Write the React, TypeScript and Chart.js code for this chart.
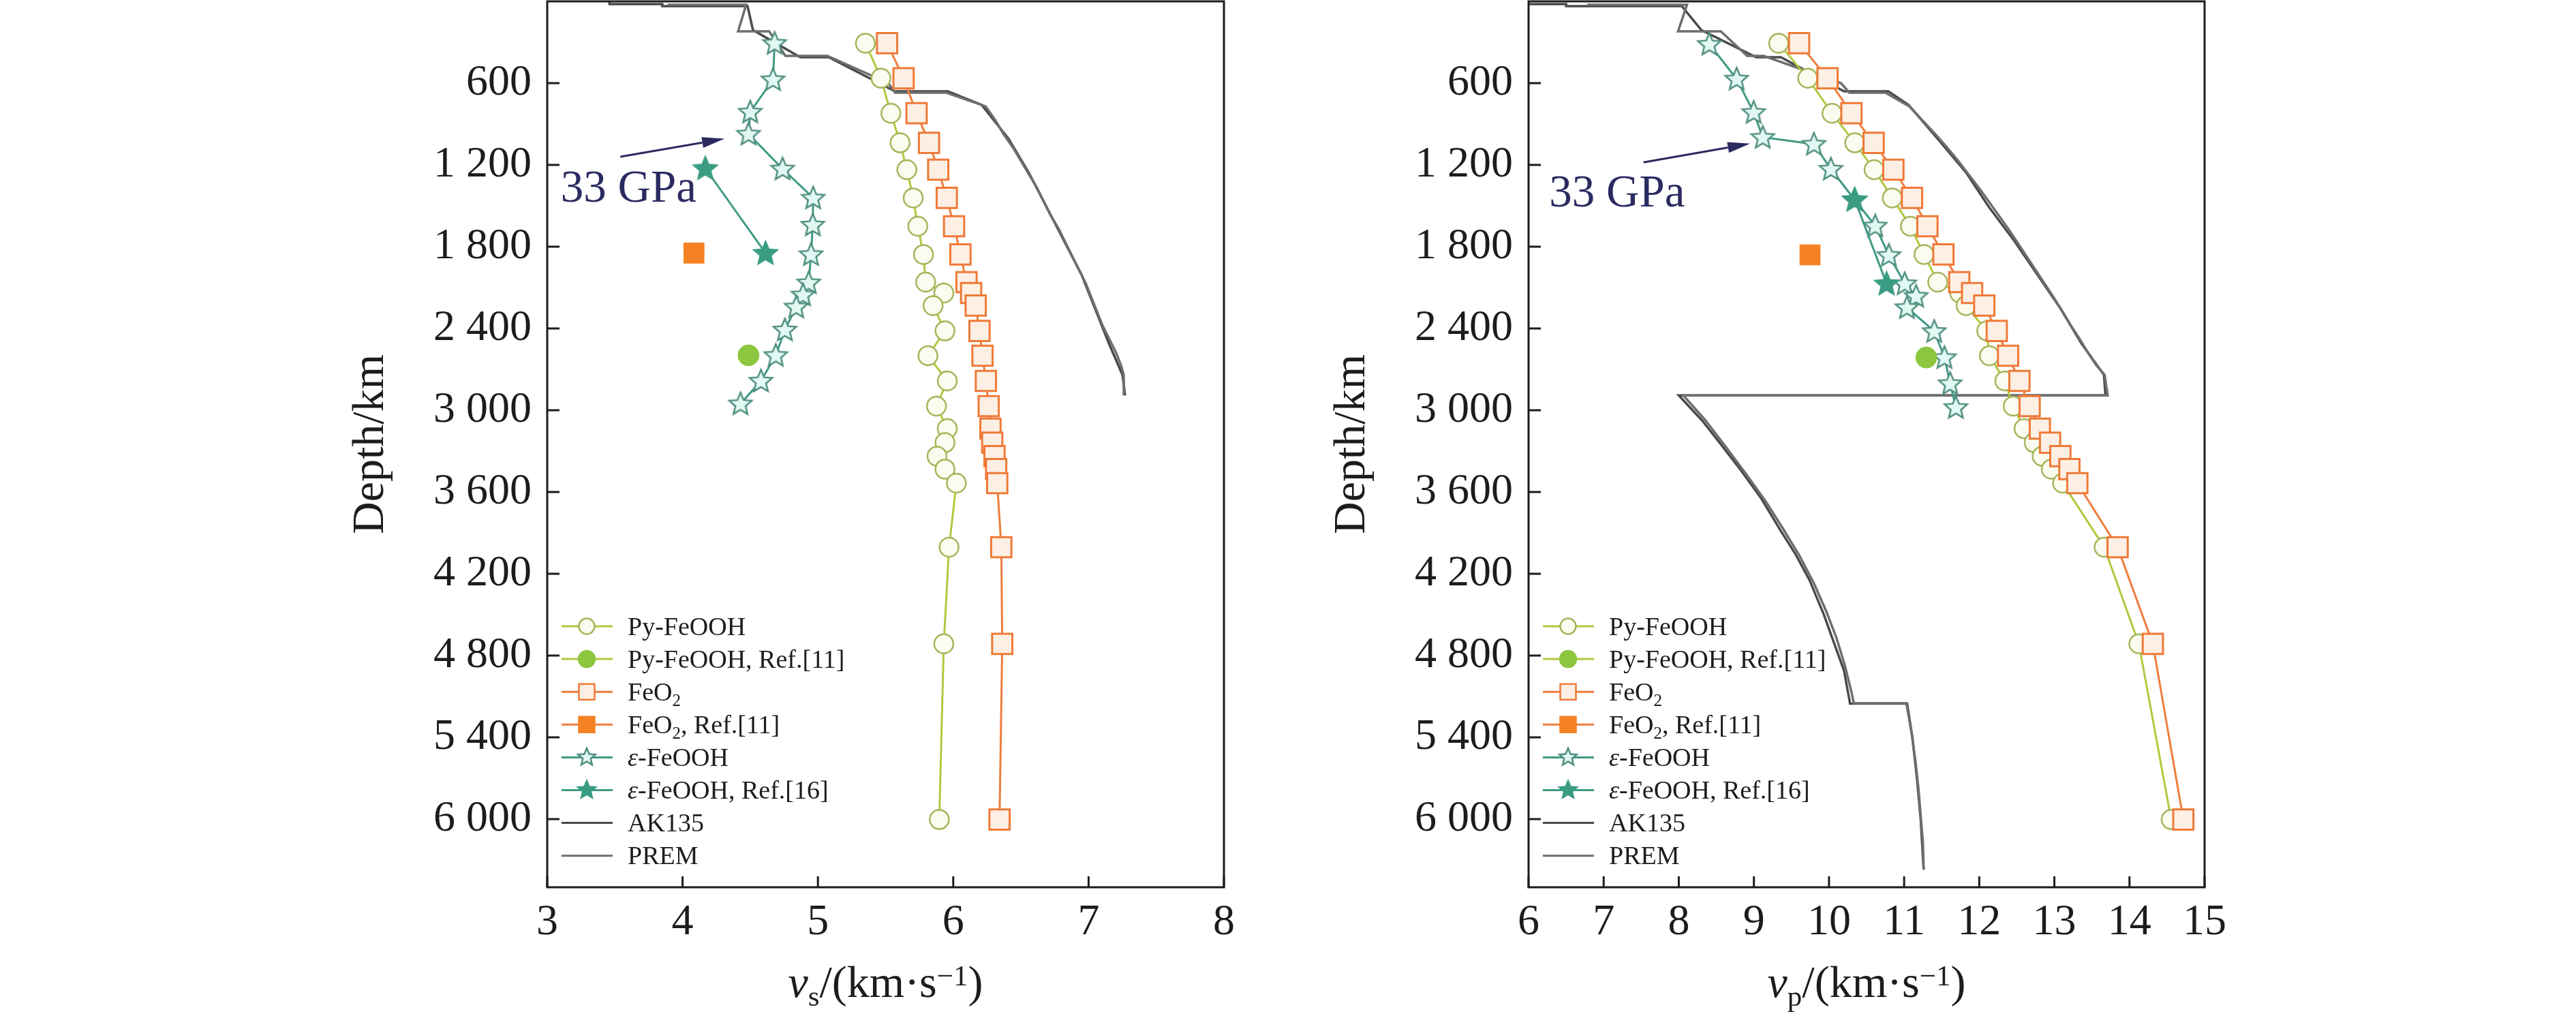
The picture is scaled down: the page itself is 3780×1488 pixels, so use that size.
import React, { useEffect, useRef } from 'react';
import { Chart, registerables } from 'chart.js';

Chart.register(...registerables);

// ---------- axes ----------
const DEPTH_MIN = 0;
const DEPTH_MAX = 6500;
const DEPTH_TICKS = [600, 1200, 1800, 2400, 3000, 3600, 4200, 4800, 5400, 6000];
const DEPTH_TICK_LABELS = ['600', '1 200', '1 800', '2 400', '3 000', '3 600', '4 200', '4 800', '5 400', '6 000'];
const VS_TICKS = [3, 4, 5, 6, 7, 8];
const VP_TICKS = [6, 7, 8, 9, 10, 11, 12, 13, 14, 15];

// ---------- computed data: Py-FeOOH and FeO2 share depths ----------
const DEPTH_CALC = [307, 564, 821, 1038, 1235, 1442, 1650, 1857, 2060, 2140, 2232, 2418, 2600, 2785, 2970, 3135, 3238, 3337, 3432, 3535, 4005, 4714, 6003];
const PY_VS = [5.351, 5.466, 5.539, 5.607, 5.657, 5.704, 5.738, 5.78, 5.796, 5.93, 5.851, 5.939, 5.813, 5.956, 5.876, 5.956, 5.939, 5.88, 5.939, 6.023, 5.969, 5.93, 5.897];
const FEO2_VS = [5.511, 5.633, 5.729, 5.821, 5.889, 5.952, 6.006, 6.053, 6.098, 6.132, 6.166, 6.194, 6.216, 6.241, 6.262, 6.275, 6.288, 6.305, 6.317, 6.325, 6.355, 6.362, 6.342];
const PY_VP = [9.33, 9.717, 10.04, 10.343, 10.6, 10.842, 11.083, 11.265, 11.447, 11.74, 11.825, 12.1, 12.135, 12.34, 12.452, 12.596, 12.732, 12.838, 12.959, 13.11, 13.663, 14.125, 14.555];
const FEO2_VP = [9.602, 9.98, 10.298, 10.594, 10.857, 11.105, 11.31, 11.523, 11.734, 11.905, 12.067, 12.233, 12.384, 12.535, 12.671, 12.807, 12.943, 13.08, 13.2, 13.306, 13.842, 14.311, 14.717];

// ---------- eps-FeOOH ----------
const EPS_DEPTH_VS = [307, 574, 811, 973, 1229, 1442, 1640, 1857, 2064, 2153, 2242, 2410, 2597, 2785, 2952];
const EPS_VS = [4.68, 4.668, 4.5, 4.487, 4.739, 4.965, 4.962, 4.949, 4.932, 4.89, 4.84, 4.756, 4.689, 4.579, 4.428];
const EPS_DEPTH_VP = [314, 569, 814, 997, 1047, 1230, 1455, 1647, 1863, 2071, 2163, 2246, 2421, 2613, 2804, 2979];
const EPS_VP = [8.407, 8.77, 8.997, 9.118, 9.799, 10.025, 10.34, 10.615, 10.797, 11.008, 11.159, 11.038, 11.401, 11.537, 11.613, 11.689];

// ---------- reference points ----------
const PY_REF_DEPTH_VS = [2597];
const PY_REF_VS = [4.487];
const FEO2_REF_DEPTH_VS = [1847];
const FEO2_REF_VS = [4.084];
const EPS_REF_DEPTH_VS = [1225, 1847];
const EPS_REF_VS = [4.168, 4.613];
const PY_REF_DEPTH_VP = [2613];
const PY_REF_VP = [11.295];
const FEO2_REF_DEPTH_VP = [1860];
const FEO2_REF_VP = [9.747];
const EPS_REF_DEPTH_VP = [1455, 2071];
const EPS_REF_VP = [10.343, 10.766];

// ---------- seismic models ----------
const PREM_DEPTH_VS = [15, 24.4, 24.4, 220, 220, 400, 400, 600, 670, 670, 771, 871, 971, 1071, 1171, 1271, 1371, 1471, 1571, 1671, 1771, 1871, 1971, 2071, 2171, 2271, 2371, 2471, 2571, 2671, 2741, 2891];
const PREM_VS = [3.9, 3.9, 4.47, 4.41, 4.64, 4.76, 5.07, 5.52, 5.57, 5.95, 6.24, 6.31, 6.37, 6.44, 6.5, 6.56, 6.62, 6.67, 6.72, 6.78, 6.83, 6.88, 6.93, 6.98, 7.02, 7.06, 7.1, 7.15, 7.2, 7.24, 7.26, 7.26];
const AK135_DEPTH_VS = [0, 20, 20, 35, 35, 210, 410, 410, 660, 660, 760, 1010, 1260, 1510, 1760, 2010, 2260, 2510, 2740, 2891];
const AK135_VS = [3.46, 3.46, 3.85, 3.85, 4.48, 4.52, 4.87, 5.08, 5.57, 5.96, 6.21, 6.41, 6.56, 6.69, 6.82, 6.95, 7.05, 7.15, 7.25, 7.27];

const PREM_DEPTH_VP = [15, 24.4, 24.4, 220, 220, 400, 400, 600, 670, 670, 771, 871, 971, 1071, 1171, 1271, 1371, 1471, 1571, 1671, 1771, 1871, 1971, 2071, 2171, 2271, 2371, 2471, 2571, 2671, 2741, 2891, 2891, 3071, 3271, 3471, 3671, 3871, 4071, 4271, 4471, 4671, 4871, 5071, 5150, 5150, 5371, 5571, 5771, 5971, 6171, 6371];
const PREM_VP = [6.8, 6.8, 8.11, 7.99, 8.56, 8.91, 9.13, 10.16, 10.27, 10.75, 11.07, 11.24, 11.41, 11.57, 11.72, 11.86, 12.0, 12.13, 12.26, 12.39, 12.51, 12.63, 12.75, 12.87, 12.99, 13.1, 13.21, 13.33, 13.44, 13.56, 13.67, 13.71, 8.06, 8.35, 8.63, 8.9, 9.16, 9.39, 9.61, 9.8, 9.96, 10.1, 10.21, 10.3, 10.33, 11.03, 11.1, 11.15, 11.19, 11.22, 11.25, 11.26];
const AK135_DEPTH_VP = [0, 20, 20, 35, 35, 210, 410, 410, 660, 660, 760, 1010, 1260, 1510, 1760, 2010, 2260, 2510, 2740, 2891, 2891, 3075, 3236, 3442, 3649, 3878, 4062, 4246, 4498, 4728, 4911, 5153, 5153, 5400, 5700, 6000, 6371];
const AK135_VP = [5.8, 5.8, 6.5, 6.5, 8.04, 8.3, 9.03, 9.36, 10.2, 10.79, 11.06, 11.45, 11.83, 12.13, 12.47, 12.78, 13.09, 13.36, 13.66, 13.68, 8.0, 8.31, 8.54, 8.83, 9.1, 9.35, 9.56, 9.74, 9.93, 10.08, 10.2, 10.28, 11.04, 11.11, 11.17, 11.22, 11.26];

// ---------- annotation (data coordinates) ----------
const ANNOT_TEXT = '33 GPa';
const ANNOT_VS_TAIL = [3.54, 1140];
const ANNOT_VS_HEAD = [4.31, 1008];
const ANNOT_VS_LABEL = [3.1, 1472];
const ANNOT_VP_TAIL = [7.53, 1181];
const ANNOT_VP_HEAD = [8.95, 1044];
const ANNOT_VP_LABEL = [6.275, 1507];

// ---------- legend ----------
type Seg = { t: string; sub?: boolean; italic?: boolean };
const LEGEND_LABELS: Seg[][] = [
  [{ t: 'Py-FeOOH' }],
  [{ t: 'Py-FeOOH, Ref.[11]' }],
  [{ t: 'FeO' }, { t: '2', sub: true }],
  [{ t: 'FeO' }, { t: '2', sub: true }, { t: ', Ref.[11]' }],
  [{ t: 'ε', italic: true }, { t: '-FeOOH' }],
  [{ t: 'ε', italic: true }, { t: '-FeOOH, Ref.[16]' }],
  [{ t: 'AK135' }],
  [{ t: 'PREM' }],
];

const SERIF = '"Liberation Serif", "Times New Roman", serif';

const C = {
  pyLine: '#b1c83e',
  pyEdge: '#a5b65c',
  pyFill: '#fbfcef',
  pyRef: '#8dc63f',
  feLine: '#ef7d3c',
  feEdge: '#ef7a38',
  feFill: '#fdefe3',
  feRef: '#f48123',
  epsLine: '#3f9a84',
  epsEdge: '#4f8e7e',
  epsFill: '#e1f8f3',
  epsRef: '#3a9d83',
  ak: '#4a4a4a',
  prem: '#6e6e6e',
  axis: '#1c1c1c',
  text: '#1c1c1c',
  annot: '#2b2b62',
};

const pts = (xs: number[], ys: number[]) => xs.map((x, i) => ({ x, y: ys[i] }));

function starPath(ctx: CanvasRenderingContext2D, cx: number, cy: number, R: number, r: number) {
  ctx.beginPath();
  for (let i = 0; i < 10; i++) {
    const a = -Math.PI / 2 + (i * Math.PI) / 5;
    const rad = i % 2 === 0 ? R : r;
    const x = cx + rad * Math.cos(a);
    const y = cy + rad * Math.sin(a);
    if (i === 0) ctx.moveTo(x, y);
    else ctx.lineTo(x, y);
  }
  ctx.closePath();
}

function drawMarker(ctx: CanvasRenderingContext2D, kind: string, x: number, y: number, s: number, fill: string, stroke: string, lw: number) {
  ctx.save();
  ctx.fillStyle = fill;
  ctx.strokeStyle = stroke;
  ctx.lineWidth = lw;
  ctx.lineJoin = 'miter';
  if (kind === 'circle') {
    ctx.beginPath();
    ctx.arc(x, y, s, 0, Math.PI * 2);
  } else if (kind === 'rect') {
    ctx.beginPath();
    ctx.rect(x - s, y - s, 2 * s, 2 * s);
  } else {
    starPath(ctx, x, y, s, s * 0.45);
  }
  ctx.fill();
  ctx.stroke();
  ctx.restore();
}

function makeStar(R: number, fill: string, stroke: string, lw: number) {
  const c = document.createElement('canvas');
  const size = Math.ceil(2 * R + 2 * lw + 4);
  c.width = size;
  c.height = size;
  const ctx = c.getContext('2d')!;
  drawMarker(ctx, 'star', size / 2, size / 2 + 1, R, fill, stroke, lw);
  return c;
}

type Panel = {
  key: string;
  xMin: number;
  xMax: number;
  xTicks: number[];
  sub: string;
  py: number[];
  fe: number[];
  eps: number[];
  epsDepth: number[];
  pyRef: number[];
  pyRefDepth: number[];
  feRef: number[];
  feRefDepth: number[];
  epsRef: number[];
  epsRefDepth: number[];
  prem: number[];
  premDepth: number[];
  ak: number[];
  akDepth: number[];
  tail: number[];
  head: number[];
  label: number[];
  canvasLeft: number;
  canvasWidth: number;
  yAxisWidth: number;
  padRight: number;
  yTitlePad: number;
};

const PANELS: Panel[] = [
  {
    key: 'vs', xMin: 3, xMax: 8, xTicks: VS_TICKS, sub: 's',
    py: PY_VS, fe: FEO2_VS, eps: EPS_VS, epsDepth: EPS_DEPTH_VS,
    pyRef: PY_REF_VS, pyRefDepth: PY_REF_DEPTH_VS, feRef: FEO2_REF_VS, feRefDepth: FEO2_REF_DEPTH_VS,
    epsRef: EPS_REF_VS, epsRefDepth: EPS_REF_DEPTH_VS,
    prem: PREM_VS, premDepth: PREM_DEPTH_VS, ak: AK135_VS, akDepth: AK135_DEPTH_VS,
    tail: ANNOT_VS_TAIL, head: ANNOT_VS_HEAD, label: ANNOT_VS_LABEL,
    canvasLeft: 0, canvasWidth: 1900, yAxisWidth: 803, padRight: 104, yTitlePad: 505,
  },
  {
    key: 'vp', xMin: 6, xMax: 15, xTicks: VP_TICKS, sub: 'p',
    py: PY_VP, fe: FEO2_VP, eps: EPS_VP, epsDepth: EPS_DEPTH_VP,
    pyRef: PY_REF_VP, pyRefDepth: PY_REF_DEPTH_VP, feRef: FEO2_REF_VP, feRefDepth: FEO2_REF_DEPTH_VP,
    epsRef: EPS_REF_VP, epsRefDepth: EPS_REF_DEPTH_VP,
    prem: PREM_VP, premDepth: PREM_DEPTH_VP, ak: AK135_VP, akDepth: AK135_DEPTH_VP,
    tail: ANNOT_VP_TAIL, head: ANNOT_VP_HEAD, label: ANNOT_VP_LABEL,
    canvasLeft: 1900, canvasWidth: 1880, yAxisWidth: 343, padRight: 545, yTitlePad: 45,
  },
];

const H = 1488;
const CHART_TOP = 2;
const CHART_BOTTOM = 1302;

function fontOf(size: number, italic?: boolean) {
  return `${italic ? 'italic ' : ''}${size}px ${SERIF}`;
}

function drawSegs(ctx: CanvasRenderingContext2D, segs: { t: string; size: number; italic?: boolean; dy?: number }[], x: number, y: number, center: boolean) {
  let total = 0;
  for (const s of segs) {
    ctx.font = fontOf(s.size, s.italic);
    total += ctx.measureText(s.t).width;
  }
  let cx = center ? x - total / 2 : x;
  ctx.textAlign = 'left';
  ctx.textBaseline = 'alphabetic';
  for (const s of segs) {
    ctx.font = fontOf(s.size, s.italic);
    ctx.fillText(s.t, cx, y + (s.dy || 0));
    cx += ctx.measureText(s.t).width;
  }
}

const decorPlugin = {
  id: 'decor',
  afterDraw(chart: any, _args: any, opts: any) {
    const p: Panel = opts.panel;
    const ctx: CanvasRenderingContext2D = chart.ctx;
    const { left, right, top, bottom } = chart.chartArea;
    const xs = chart.scales.x;
    const ys = chart.scales.y;
    ctx.save();

    // inward tick marks
    ctx.strokeStyle = C.axis;
    ctx.lineWidth = 3;
    ctx.beginPath();
    for (const t of xs.ticks) {
      const px = xs.getPixelForValue(t.value);
      ctx.moveTo(px, bottom);
      ctx.lineTo(px, bottom - 16);
    }
    for (const t of ys.ticks) {
      const py = ys.getPixelForValue(t.value);
      ctx.moveTo(left, py);
      ctx.lineTo(left + 18, py);
    }
    ctx.stroke();

    // frame
    ctx.lineWidth = 3;
    ctx.strokeRect(left, top, right - left, bottom - top);

    // x axis title
    ctx.fillStyle = C.text;
    drawSegs(ctx, [
      { t: 'v', size: 66, italic: true },
      { t: p.sub, size: 43, dy: 13 },
      { t: '/(km·s', size: 66 },
      { t: '−1', size: 43, dy: -17 },
      { t: ')', size: 66 },
    ], (left + right) / 2, 1463, true);

    // annotation arrow
    const tx = xs.getPixelForValue(p.tail[0]);
    const ty = ys.getPixelForValue(p.tail[1]);
    const hx = xs.getPixelForValue(p.head[0]);
    const hy = ys.getPixelForValue(p.head[1]);
    const ang = Math.atan2(hy - ty, hx - tx);
    const hl = 33;
    const hw = 8;
    const bx = hx - hl * Math.cos(ang);
    const by = hy - hl * Math.sin(ang);
    ctx.strokeStyle = C.annot;
    ctx.fillStyle = C.annot;
    ctx.lineWidth = 3;
    ctx.beginPath();
    ctx.moveTo(tx, ty);
    ctx.lineTo(bx, by);
    ctx.stroke();
    ctx.beginPath();
    ctx.moveTo(hx, hy);
    ctx.lineTo(bx + hw * Math.sin(ang), by - hw * Math.cos(ang));
    ctx.lineTo(bx - hw * Math.sin(ang), by + hw * Math.cos(ang));
    ctx.closePath();
    ctx.fill();
    ctx.font = fontOf(67);
    ctx.textAlign = 'left';
    ctx.textBaseline = 'alphabetic';
    ctx.fillText(ANNOT_TEXT, xs.getPixelForValue(p.label[0]), ys.getPixelForValue(p.label[1]));

    // legend
    const rowY0 = 919;
    const rowDy = 48.1;
    const lx0 = left + 21;
    const lx1 = left + 96;
    const mx = left + 58;
    const textX = left + 118;
    const styles = [
      { line: C.pyLine, kind: 'circle', s: 11.5, fill: C.pyFill, stroke: C.pyEdge },
      { line: C.pyLine, kind: 'circle', s: 12, fill: C.pyRef, stroke: C.pyRef },
      { line: C.feLine, kind: 'rect', s: 11.5, fill: C.feFill, stroke: C.feEdge },
      { line: C.feLine, kind: 'rect', s: 11.5, fill: C.feRef, stroke: C.feRef },
      { line: C.epsLine, kind: 'star', s: 13.5, fill: C.epsFill, stroke: C.epsEdge },
      { line: C.epsLine, kind: 'star', s: 13.5, fill: C.epsRef, stroke: C.epsRef },
      { line: C.ak, kind: '', s: 0, fill: '', stroke: '' },
      { line: C.prem, kind: '', s: 0, fill: '', stroke: '' },
    ];
    LEGEND_LABELS.forEach((segs, i) => {
      const y = rowY0 + i * rowDy;
      const st = styles[i];
      ctx.strokeStyle = st.line;
      ctx.lineWidth = 3;
      ctx.beginPath();
      ctx.moveTo(lx0, y);
      ctx.lineTo(lx1, y);
      ctx.stroke();
      if (st.kind) drawMarker(ctx, st.kind, mx, y, st.s, st.fill, st.stroke, 2.5);
      ctx.fillStyle = C.text;
      drawSegs(ctx, segs.map((s) => ({ t: s.t, size: s.sub ? 25 : 38, italic: s.italic, dy: s.sub ? 8 : 0 })), textX, y + 12.5, false);
    });

    ctx.restore();
  },
};

function buildConfig(p: Panel) {
  const openStar = makeStar(17.5, C.epsFill, C.epsEdge, 2.5);
  const fullStar = makeStar(18.5, C.epsRef, C.epsRef, 2);
  const datasets: any[] = [
    {
      label: 'ε-FeOOH, Ref.[16]', data: pts(p.epsRef, p.epsRefDepth), showLine: true,
      borderColor: C.epsLine, borderWidth: 3, pointStyle: fullStar, pointRadius: 18,
    },
    {
      label: 'FeO2, Ref.[11]', data: pts(p.feRef, p.feRefDepth), showLine: false,
      pointStyle: 'rect', pointRadius: 21, pointBackgroundColor: C.feRef, pointBorderColor: C.feRef, pointBorderWidth: 1,
    },
    {
      label: 'Py-FeOOH, Ref.[11]', data: pts(p.pyRef, p.pyRefDepth), showLine: false,
      pointStyle: 'circle', pointRadius: 15.5, pointBackgroundColor: C.pyRef, pointBorderColor: C.pyRef, pointBorderWidth: 1,
    },
    {
      label: 'FeO2', data: pts(p.fe, DEPTH_CALC), showLine: true, borderColor: C.feLine, borderWidth: 3,
      pointStyle: 'rect', pointRadius: 21, pointBackgroundColor: C.feFill, pointBorderColor: C.feEdge, pointBorderWidth: 3,
    },
    {
      label: 'Py-FeOOH', data: pts(p.py, DEPTH_CALC), showLine: true, borderColor: C.pyLine, borderWidth: 3,
      pointStyle: 'circle', pointRadius: 14, pointBackgroundColor: C.pyFill, pointBorderColor: C.pyEdge, pointBorderWidth: 2.5,
    },
    {
      label: 'ε-FeOOH', data: pts(p.eps, p.epsDepth), showLine: true, borderColor: C.epsLine, borderWidth: 3,
      pointStyle: openStar, pointRadius: 18,
    },
    {
      label: 'PREM', data: pts(p.prem, p.premDepth), showLine: true, borderColor: C.prem, borderWidth: 3.5, pointRadius: 0,
    },
    {
      label: 'AK135', data: pts(p.ak, p.akDepth), showLine: true, borderColor: C.ak, borderWidth: 3.5, pointRadius: 0,
    },
  ];
  datasets.forEach((d) => {
    d.tension = 0;
    d.fill = false;
    d.pointHoverRadius = d.pointRadius;
  });

  return {
    type: 'scatter' as const,
    data: { datasets },
    plugins: [decorPlugin],
    options: {
      animation: false,
      responsive: false,
      maintainAspectRatio: false,
      devicePixelRatio: 1,
      events: [],
      layout: { autoPadding: false, padding: { left: 0, right: p.padRight, top: CHART_TOP, bottom: 0 } },
      plugins: {
        legend: { display: false },
        tooltip: { enabled: false },
        decor: { panel: p },
      },
      scales: {
        x: {
          type: 'linear',
          position: 'bottom',
          min: p.xMin,
          max: p.xMax,
          afterBuildTicks: (s: any) => {
            s.ticks = p.xTicks.map((v) => ({ value: v }));
          },
          afterFit: (s: any) => {
            s.height = H - CHART_BOTTOM;
            s.paddingLeft = 0;
            s.paddingRight = 0;
          },
          ticks: {
            autoSkip: false,
            maxRotation: 0,
            minRotation: 0,
            padding: 14,
            color: C.text,
            font: { family: SERIF, size: 64 },
            callback: (v: number) => String(v),
          },
          grid: { display: false, drawTicks: false },
          border: { display: false },
          title: { display: false },
        },
        y: {
          type: 'linear',
          position: 'left',
          reverse: true,
          min: DEPTH_MIN,
          max: DEPTH_MAX,
          afterBuildTicks: (s: any) => {
            s.ticks = DEPTH_TICKS.map((v) => ({ value: v }));
          },
          afterFit: (s: any) => {
            s.width = p.yAxisWidth;
            s.paddingTop = 0;
            s.paddingBottom = 0;
          },
          ticks: {
            autoSkip: false,
            padding: 23,
            color: C.text,
            font: { family: SERIF, size: 64 },
            callback: (v: number) => {
              const i = DEPTH_TICKS.indexOf(v);
              return i >= 0 ? DEPTH_TICK_LABELS[i] : String(v);
            },
          },
          grid: { display: false, drawTicks: false },
          border: { display: false },
          title: {
            display: true,
            text: 'Depth/km',
            color: C.text,
            font: { family: SERIF, size: 66 },
            padding: { top: p.yTitlePad, bottom: 0 },
          },
        },
      },
    },
  };
}

function PanelChart({ p }: { p: Panel }) {
  const ref = useRef<HTMLCanvasElement>(null);
  useEffect(() => {
    const chart = new Chart(ref.current as HTMLCanvasElement, buildConfig(p) as any);
    return () => chart.destroy();
  }, [p]);
  return (
    <canvas
      ref={ref}
      width={p.canvasWidth}
      height={H}
      style={{ position: 'absolute', left: p.canvasLeft, top: 0, width: p.canvasWidth, height: H }}
    />
  );
}

export default function App() {
  return (
    <div style={{ position: 'absolute', left: 0, top: 0, width: 3780, height: H, background: '#ffffff', overflow: 'hidden' }}>
      {PANELS.map((p) => (
        <PanelChart key={p.key} p={p} />
      ))}
    </div>
  );
}
